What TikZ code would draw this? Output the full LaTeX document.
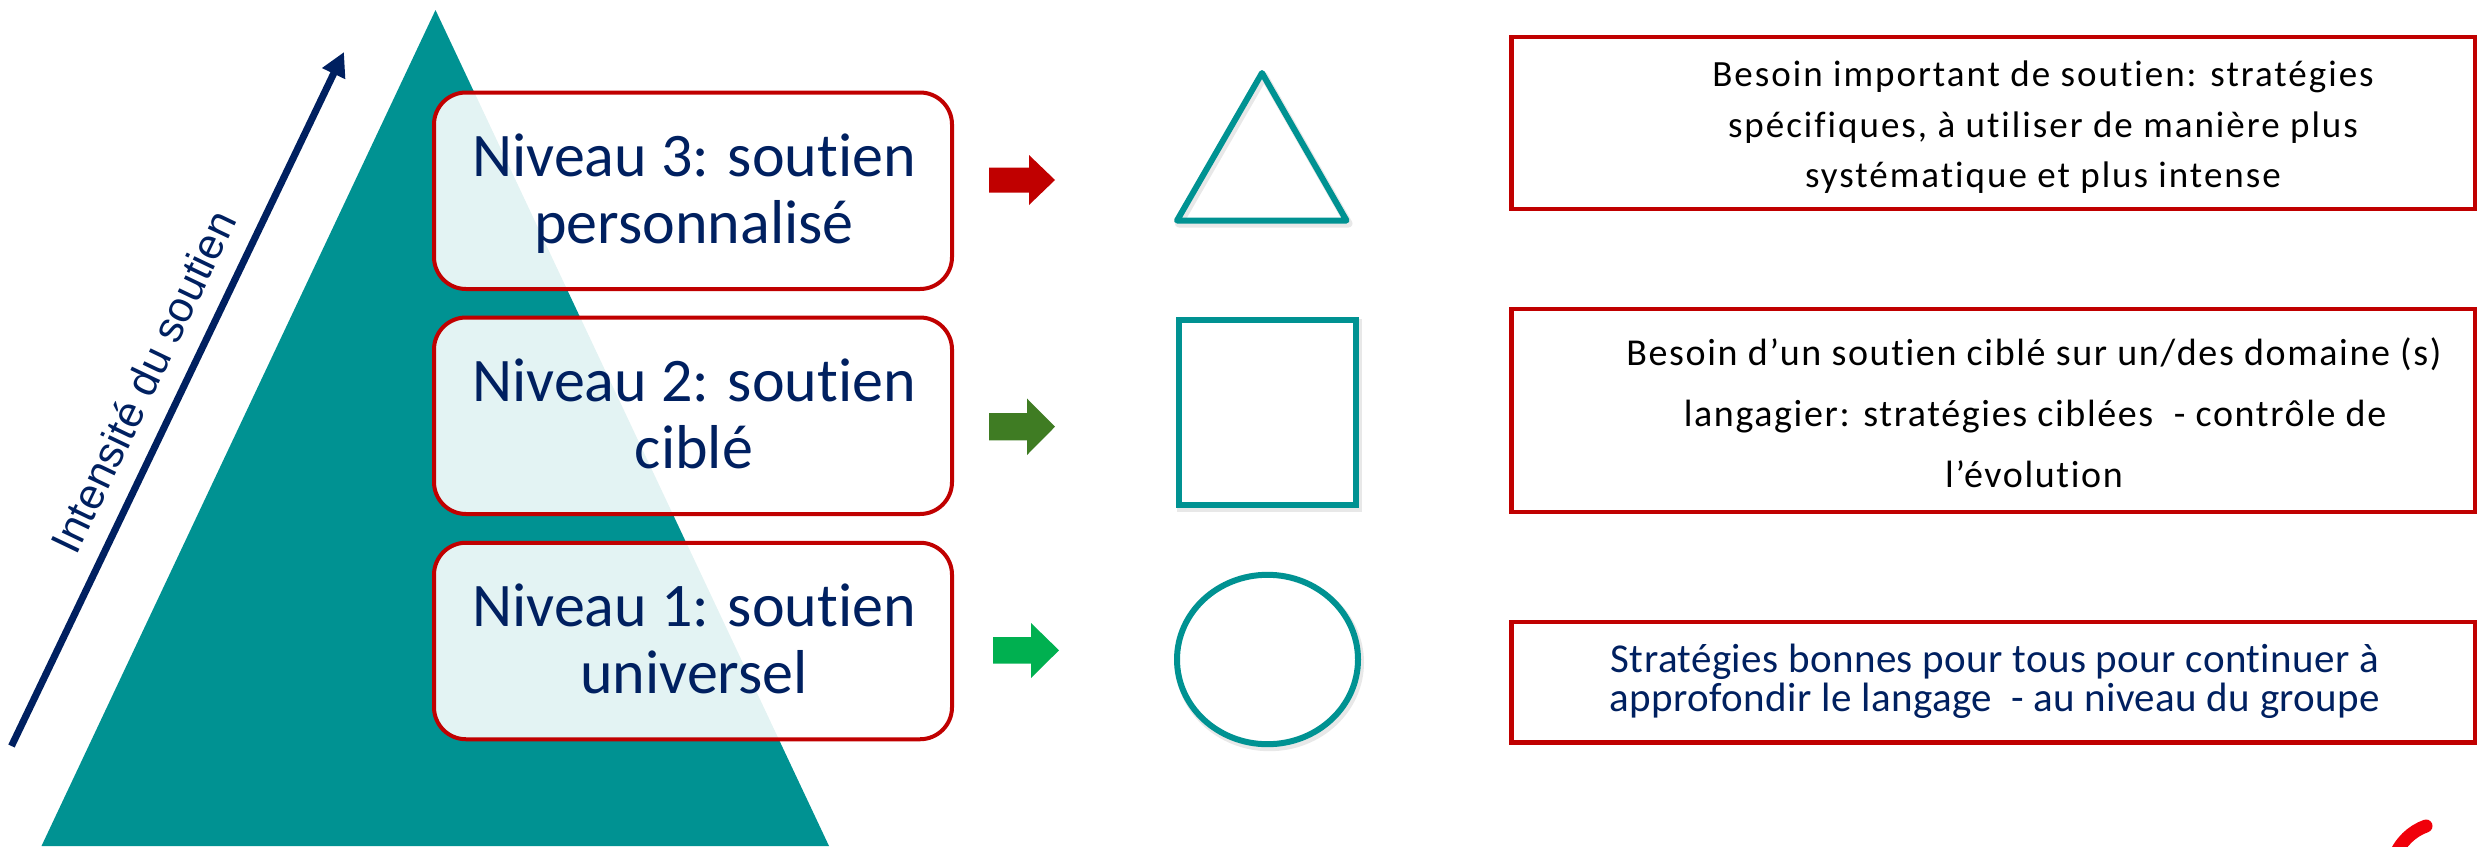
\documentclass[tikz,border=0pt]{standalone}
\usepackage{fontspec}
\setmainfont{Carlito}[Ligatures=NoCommon]
\newfontfamily\lvlfont{Carlito}[Ligatures=NoCommon]
\newfontfamily\rafont{Carlito}[LetterSpace=5.4,Ligatures=NoCommon]
\newfontfamily\rbfont{Carlito}[LetterSpace=4.3,Ligatures=NoCommon]
\newfontfamily\rcfont{Carlito}[LetterSpace=1,Ligatures=NoCommon]
\newfontfamily\axfont{Liberation Sans}
\usetikzlibrary{arrows.meta}
\definecolor{pyr}{RGB}{0,146,146}
\definecolor{boxred}{RGB}{192,0,0}
\definecolor{navy}{RGB}{0,32,96}
\definecolor{dkgreen}{RGB}{63,124,35}
\definecolor{ltgreen}{RGB}{0,176,80}
\definecolor{logored}{RGB}{240,0,10}
\begin{document}
\begin{tikzpicture}[x=1pt,y=-1pt,
  lvlbox/.style={draw=boxred, line width=4pt, rounded corners=32pt, fill=white, fill opacity=0.89,
    inner sep=0pt, minimum width=518pt, minimum height=196.5pt},
  rbox/.style={draw=boxred, line width=4.5pt, inner sep=0pt, minimum width=963.5pt},
  lvltxt/.style={font=\lvlfont\fontsize{62}{67}\selectfont, text=navy, inner sep=0pt, anchor=base},
  ratxt/.style={font=\rafont\fontsize{37}{44}\selectfont, text=black, inner sep=0pt, anchor=base},
  rbtxt/.style={font=\rbfont\fontsize{38}{45}\selectfont, text=black, inner sep=0pt, anchor=base},
  rctxt/.style={font=\rcfont\fontsize{41}{48}\selectfont, text=navy, inner sep=0pt, anchor=base},
  shp/.style={draw=pyr, line width=6pt},
  shd/.style={draw=black, opacity=0.09, line width=8pt}
]
\useasboundingbox (0,0) rectangle (2478,846);
% pyramid
\fill[pyr] (435.5,10) -- (829,846) -- (41.5,846) -- cycle;
% intensity arrow
\coordinate (ia0) at (11.5,746);
\coordinate (ia1) at (344,52);
\draw[navy, line width=7pt, -{Triangle[length=24pt,width=24pt]}] (ia0) -- (ia1);
\node[font=\axfont\fontsize{43}{50}\selectfont, text=navy, inner sep=0pt, anchor=base, rotate=64.4]
  (lab) at (157,388.5) {Intensité du soutien};
% level boxes
\node[lvlbox] (b3) at (693,190.75) {};
\node[lvlbox] (b2) at (693,415.75) {};
\node[lvlbox] (b1) at (693,641) {};
\node[lvltxt] (t3a) at (694,176) {Niveau 3: soutien};
\node[lvltxt] (t3b) at (694,243) {personnalisé};
\node[lvltxt] (t2a) at (694,401) {Niveau 2: soutien};
\node[lvltxt] (t2b) at (694,468) {ciblé};
\node[lvltxt] (t1a) at (694,626.5) {Niveau 1: soutien};
\node[lvltxt] (t1b) at (694,693.5) {universel};
% block arrows
\fill[boxred] (989,167.5) -- (1029,167.5) -- (1029,155) -- (1055,180) -- (1029,205) -- (1029,192.5) -- (989,192.5) -- cycle;
\fill[dkgreen] (989,413) -- (1027,413) -- (1027,398.5) -- (1055,426.7) -- (1027,455) -- (1027,440.4) -- (989,440.4) -- cycle;
\fill[ltgreen] (993,637) -- (1031,637) -- (1031,623) -- (1059,650.3) -- (1031,678) -- (1031,663.7) -- (993,663.7) -- cycle;
% shadows
\draw[shd, line join=round] (1264,76) -- (1348.5,223.5) -- (1179,223.5) -- cycle;
\draw[shd] (1181,322.8) rectangle (1358,507.7);
\draw[shd] (1269.5,662.5) ellipse [x radius=90.5, y radius=84.7];
% teal shapes
\draw[shp, line join=round] (1262,73) -- (1346.5,220.5) -- (1177,220.5) -- cycle;
\draw[shp, fill=white] (1179,319.8) rectangle (1356,504.7);
\draw[shp, fill=white] (1267.5,659.5) ellipse [x radius=90.5, y radius=84.7];
% right boxes
\node[rbox, minimum height=172pt] (ra) at (1993.25,123) {};
\node[rbox, minimum height=203pt] (rb) at (1993.25,410.5) {};
\node[rbox, minimum height=120.5pt] (rc) at (1993.25,682.25) {};
\node[ratxt] (ra1) at (2043,86.7) {Besoin important de soutien: stratégies};
\node[ratxt] (ra2) at (2043,137) {spécifiques, à utiliser de manière plus};
\node[ratxt] (ra3) at (2043,187.5) {systématique et plus intense};
\node[rbtxt] (rb1) at (2034,365) {Besoin d’un soutien ciblé sur un/des domaine (s)};
\node[rbtxt] (rb2) at (2035,426) {langagier: stratégies ciblées\ \ - contrôle de};
\node[rbtxt] (rb3) at (2034,487.5) {l’évolution};
\node[rctxt] (rc1) at (1995,672.3) {Stratégies bonnes pour tous pour continuer à};
\node[rctxt] (rc2) at (1995,711) {approfondir le langage\ \ - au niveau du groupe};
% logo swoosh
\draw[logored, line width=13pt, line cap=round] (2426,826) .. controls (2412,831) and (2400,842) .. (2394,858);
\end{tikzpicture}
\end{document}
